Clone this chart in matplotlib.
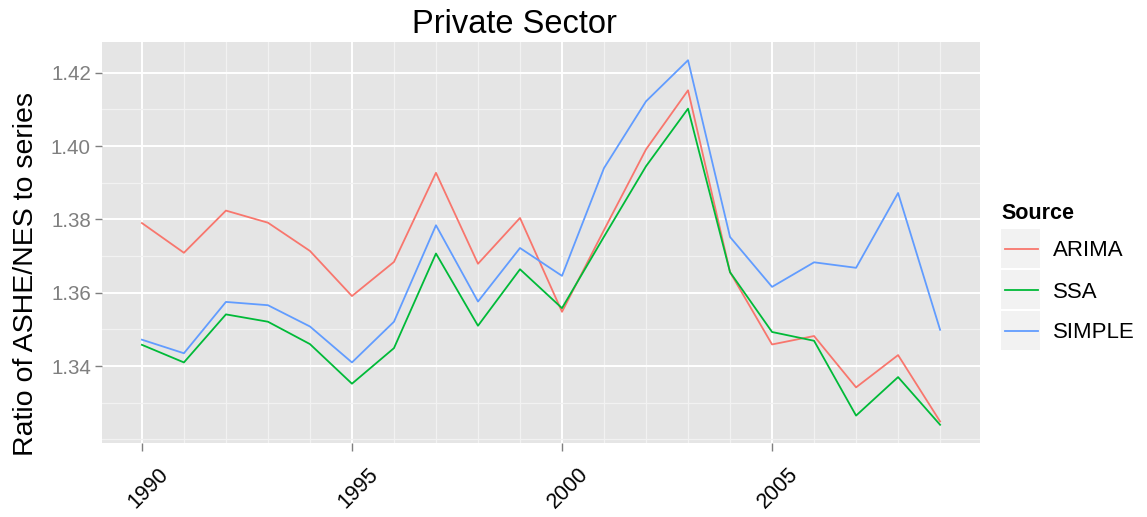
#!/usr/bin/env python
"""Private sector ratio of ASHE/NES to three adjusted series, ggplot-like look."""
import matplotlib
matplotlib.use("Agg")
import matplotlib.pyplot as plt
import matplotlib.transforms as mtransforms
from matplotlib.patches import Rectangle
from matplotlib.lines import Line2D
from matplotlib.ticker import MultipleLocator, FixedLocator

years = list(range(1990, 2010))

arima = [1.3790, 1.3709, 1.3824, 1.3791, 1.3714, 1.3591, 1.3684, 1.3927, 1.3679, 1.3804,
         1.3548, 1.3771, 1.3991, 1.4152, 1.3656, 1.3459, 1.3482, 1.3342, 1.3430, 1.3249]
ssa = [1.3458, 1.3410, 1.3541, 1.3521, 1.3460, 1.3352, 1.3449, 1.3707, 1.3510, 1.3664,
       1.3558, 1.3753, 1.3945, 1.4102, 1.3656, 1.3493, 1.3469, 1.3265, 1.3370, 1.3240]
simple = [1.3472, 1.3435, 1.3575, 1.3566, 1.3508, 1.3410, 1.3521, 1.3784, 1.3576, 1.3722,
          1.3646, 1.3940, 1.4122, 1.4234, 1.3752, 1.3616, 1.3683, 1.3668, 1.3872, 1.3499]

series_names = ["ARIMA", "SSA", "SIMPLE"]
series_colors = ["#F8766D", "#00BA38", "#619CFF"]

x_breaks = [1990, 1995, 2000, 2005]
y_breaks = [1.34, 1.36, 1.38, 1.40, 1.42]

plt.rcParams["font.family"] = ["Liberation Sans", "DejaVu Sans"]

W, H, DPI = 1147, 517, 100
fig = plt.figure(figsize=(W / DPI, H / DPI), dpi=DPI)
# pixel coordinates measured from the top-left corner of the figure
px = mtransforms.Affine2D().scale(1 / W, -1 / H).translate(0, 1) + fig.transFigure

ax = fig.add_axes([102 / W, 1 - 443 / H, (980 - 102) / W, (443 - 42) / H])
ax.set_facecolor("#E5E5E5")

for vals, name, col in zip([arima, ssa, simple], series_names, series_colors):
    ax.plot(years, vals, color=col, linewidth=1.3, label=name, zorder=3)

# ggplot default expansion: 5% each side
xr = max(years) - min(years)
ax.set_xlim(min(years) - 0.05 * xr, max(years) + 0.05 * xr)
allv = arima + ssa + simple
yr = max(allv) - min(allv)
ax.set_ylim(min(allv) - 0.05 * yr, max(allv) + 0.05 * yr)

ax.xaxis.set_major_locator(FixedLocator(x_breaks))
ax.xaxis.set_minor_locator(FixedLocator([y for y in years if y not in x_breaks]))
ax.yaxis.set_major_locator(FixedLocator(y_breaks))
ax.yaxis.set_minor_locator(MultipleLocator(0.01))

ax.grid(which="major", color="white", linewidth=1.4, zorder=1)
ax.grid(which="minor", color="#F2F2F2", linewidth=0.9, zorder=1)
ax.set_axisbelow(True)
for sp in ax.spines.values():
    sp.set_visible(False)

ax.tick_params(axis="both", which="major", width=1, color="#7F7F7F")
ax.tick_params(axis="x", which="major", length=6)
ax.tick_params(axis="y", which="major", length=5)
ax.tick_params(axis="both", which="minor", length=0)
ax.tick_params(axis="y", labelsize=14.8, labelcolor="#7F7F7F", pad=3)
ax.tick_params(axis="x", labelsize=15.5, labelcolor="black", pad=9)
ax.set_yticklabels([f"{v:.2f}" for v in y_breaks])
ax.set_xticklabels([str(v) for v in x_breaks], rotation=45, ha="center", va="top")
shift = mtransforms.ScaledTranslation(6 / DPI, 0, fig.dpi_scale_trans)
for lab in ax.get_xticklabels():
    lab.set_transform(lab.get_transform() + shift)

fig.text(514, 33, "Private Sector", transform=px, fontsize=23.5,
         ha="center", va="baseline")
fig.text(26, 274, "Ratio of ASHE/NES to series", transform=px, fontsize=20.5,
         rotation=90, ha="center", va="center")

# legend, ggplot style: grey key boxes with a short line segment
fig.text(1001, 219, "Source", transform=px, fontsize=15.5, fontweight="bold",
         ha="left", va="baseline")
for i, (name, col) in enumerate(zip(series_names, series_colors)):
    top = 229 + i * 41
    fig.add_artist(Rectangle((1001, top), 39, 39, transform=px,
                             facecolor="#F2F2F2", edgecolor="none"))
    fig.add_artist(Line2D([1005, 1038], [top + 19.5, top + 19.5], transform=px,
                          color=col, linewidth=1.3))
    fig.text(1053, top + 19.5, name, transform=px, fontsize=16,
             ha="left", va="center_baseline")

fig.savefig("out.png", dpi=DPI, facecolor="white")
